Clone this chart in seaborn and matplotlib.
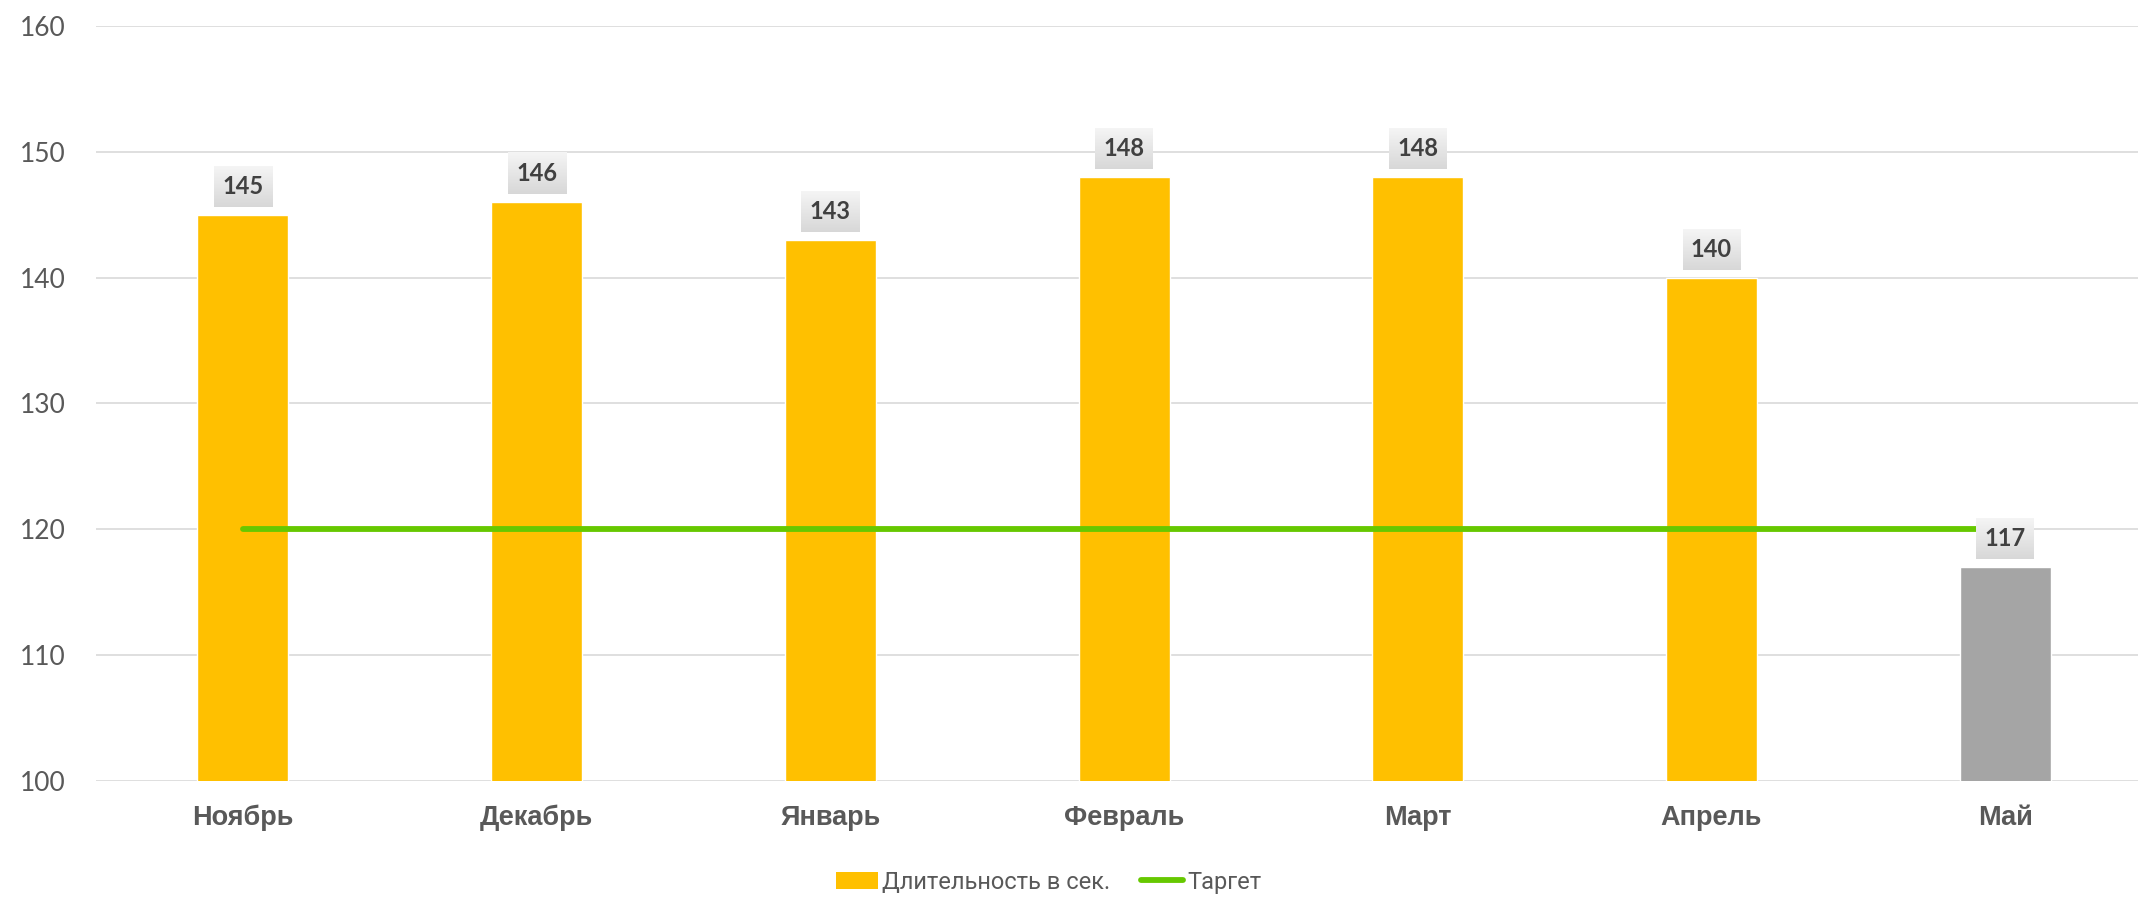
import numpy as np
import matplotlib
matplotlib.use("Agg")
import matplotlib.pyplot as plt
from matplotlib import font_manager
import seaborn as sns
from matplotlib.patches import Patch
from matplotlib.lines import Line2D

# Monthly average duration (seconds) against the target
months = ["Ноябрь", "Декабрь", "Январь", "Февраль", "Март", "Апрель", "Май"]
durations = [145, 146, 143, 148, 148, 140, 117]
target = [120, 120, 120, 120, 120, 120, 120]
y_ticks = [100, 110, 120, 130, 140, 150, 160]
series_names = ["Длительность в сек.", "Таргет"]

BAR = "#FFC000"
BAR_CURRENT = "#A5A5A5"
LINE = "#66C800"
GRID = "#D9D9D9"
TEXT = "#595959"
LABEL_TEXT = "#404040"

sns.set_theme(style="white")
plt.rcParams["font.family"] = ["Roboto", "DejaVu Sans"]

# Condensed bold face for the month names when available
installed = {f.name for f in font_manager.fontManager.ttflist}
if "Liberation Sans Narrow" in installed:
    month_family, month_size = ["Liberation Sans Narrow", "DejaVu Sans"], 21.5
else:
    month_family, month_size = ["Liberation Sans", "DejaVu Sans"], 19.5

fig = plt.figure(figsize=(21.38, 8.98), dpi=100)
fig.patch.set_facecolor("white")
ax = fig.add_axes([0.0449, 0.1303, 0.9617, 0.8408])

palette = [BAR] * (len(months) - 1) + [BAR_CURRENT]
sns.barplot(x=months, y=durations, hue=months, palette=palette, dodge=False,
            width=0.31, legend=False, ax=ax, zorder=2, saturation=1)

sns.lineplot(x=np.arange(len(months)), y=target, color=LINE, linewidth=4.2,
             ax=ax, zorder=3, solid_capstyle="round")

ax.set_xlim(-0.5, len(months) - 0.5)
ax.set_ylim(y_ticks[0], y_ticks[-1])
ax.set_yticks(y_ticks)
ax.set_autoscale_on(False)

ax.grid(axis="y", color=GRID, linewidth=1.2, zorder=0)
ax.grid(axis="x", visible=False)
ax.set_axisbelow(True)
for s in ax.spines.values():
    s.set_visible(False)
ax.set_xlabel("")
ax.set_ylabel("")

ax.tick_params(axis="y", length=0, pad=22, labelsize=19, labelcolor=TEXT)
ax.tick_params(axis="x", length=0, pad=17, labelcolor=TEXT)
for lbl in ax.get_yticklabels():
    lbl.set_fontfamily(["Lato", "Roboto", "DejaVu Sans"])
for lbl in ax.get_xticklabels():
    lbl.set_fontfamily(month_family)
    lbl.set_fontweight("bold")
    lbl.set_fontsize(month_size)

# Value labels in gradient boxes above each bar
for i, v in enumerate(durations):
    ax.annotate(str(v), xy=(i, v), xytext=(0, 20.5), textcoords="offset points",
                ha="center", va="center", fontsize=17, fontweight="bold",
                color=LABEL_TEXT, family=["Lato", "Roboto", "DejaVu Sans"],
                zorder=6)

fig.canvas.draw()
box_w, box_h = 58, 41
grad = np.linspace(0.96, 0.845, 64).reshape(-1, 1)
grad_img = np.dstack([grad, grad, grad])
inv = ax.transData.inverted()
for i, v in enumerate(durations):
    cx, cy = ax.transData.transform((i, v))
    cy += 20.5 * fig.dpi / 72.0
    (x0, y0) = inv.transform((cx - box_w / 2, cy - box_h / 2))
    (x1, y1) = inv.transform((cx + box_w / 2, cy + box_h / 2))
    ax.imshow(grad_img, extent=(x0, x1, y0, y1), aspect="auto", zorder=5,
              interpolation="bilinear", origin="upper")

ax.set_xlim(-0.5, len(months) - 0.5)
ax.set_ylim(y_ticks[0], y_ticks[-1])

handles = [Patch(facecolor=BAR, edgecolor="none"),
           Line2D([0], [0], color=LINE, linewidth=4.2, solid_capstyle="round")]
fig.legend(handles, series_names, loc="center", bbox_to_anchor=(0.4906, 0.0178),
           ncol=2, frameon=False, fontsize=17, handlelength=1.75, handleheight=0.75,
           handletextpad=0.2, columnspacing=1.3, borderpad=0, labelcolor=TEXT)

fig.savefig("out.png", dpi=100, facecolor="white")
